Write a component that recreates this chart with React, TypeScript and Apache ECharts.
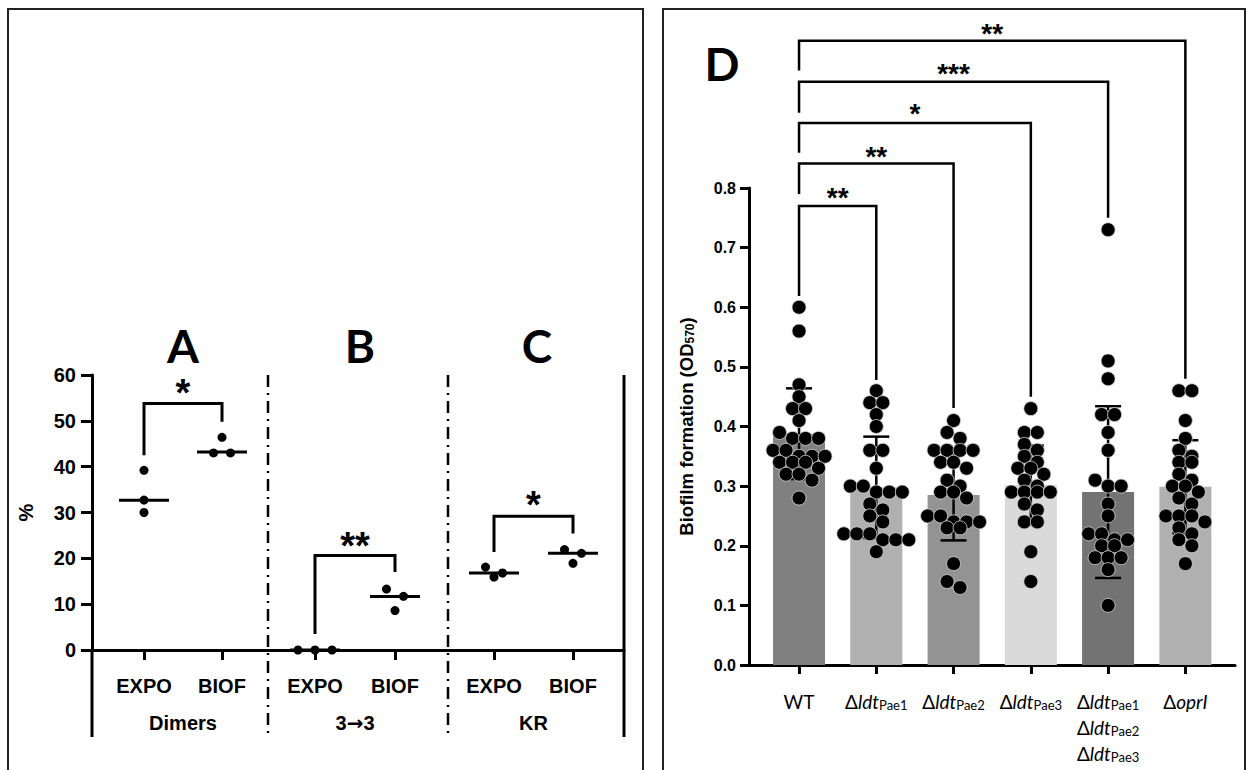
import React, { useEffect, useRef } from "react";
import * as echarts from "echarts";

// ---------- Left panel (A, B, C) data ----------
const groupNames = ["Dimers", "3\u21923", "KR"];
const conditions = ["EXPO", "BIOF"];
const dimersExpo = [39.2, 32.7, 30.0];
const dimersBiof = [46.4, 43.0, 43.0];
const t33Expo = [0, 0, 0];
const t33Biof = [13.3, 11.7, 8.6];
const krExpo = [18.1, 15.9, 16.8];
const krBiof = [21.9, 21.1, 18.9];
const dimersMedian = [32.7, 43.2];
const t33Median = [0, 11.7];
const krMedian = [16.8, 21.1];
const leftSig = ["*", "**", "*"];
// [EXPO leg bottom, bracket top, BIOF leg bottom, star level]
const dimersBracket = [42.5, 53.8, 49.8, 57.8];
const t33Bracket = [3.5, 20.6, 17.0, 24.6];
const krBracket = [21.4, 29.2, 25.4, 33.4];

// ---------- Right panel (D) data ----------
const strains = ["WT", "Pae1", "Pae2", "Pae3", "Triple", "oprI"];
const strainMeans = [0.388, 0.298, 0.285, 0.302, 0.29, 0.299];
const strainSD = [0.076, 0.085, 0.076, 0.066, 0.144, 0.078];
const barColors = ["#808080", "#b0b0b0", "#939393", "#dadada", "#737373", "#b0b0b0"];
const wtValues = [0.6, 0.56, 0.47, 0.45, 0.43, 0.43, 0.41, 0.39, 0.38, 0.38, 0.38, 0.36, 0.36, 0.35, 0.35, 0.35, 0.34, 0.34, 0.34, 0.33, 0.32, 0.32, 0.31, 0.28];
const pae1Values = [0.46, 0.44, 0.44, 0.42, 0.4, 0.36, 0.36, 0.33, 0.3, 0.3, 0.29, 0.29, 0.29, 0.27, 0.26, 0.25, 0.24, 0.22, 0.22, 0.22, 0.21, 0.21, 0.21, 0.19];
const pae2Values = [0.41, 0.39, 0.38, 0.36, 0.36, 0.36, 0.36, 0.34, 0.34, 0.33, 0.31, 0.3, 0.29, 0.29, 0.28, 0.25, 0.25, 0.24, 0.24, 0.24, 0.23, 0.23, 0.17, 0.14, 0.13];
const pae3Values = [0.43, 0.39, 0.39, 0.37, 0.36, 0.35, 0.34, 0.33, 0.33, 0.32, 0.31, 0.3, 0.29, 0.29, 0.29, 0.29, 0.27, 0.26, 0.24, 0.24, 0.19, 0.14];
const tripleValues = [0.73, 0.51, 0.48, 0.42, 0.42, 0.39, 0.36, 0.31, 0.3, 0.3, 0.27, 0.25, 0.22, 0.22, 0.21, 0.21, 0.2, 0.2, 0.18, 0.18, 0.18, 0.16, 0.1];
const oprIValues = [0.46, 0.46, 0.41, 0.38, 0.36, 0.35, 0.34, 0.34, 0.32, 0.31, 0.3, 0.3, 0.29, 0.28, 0.27, 0.25, 0.25, 0.25, 0.24, 0.23, 0.22, 0.21, 0.2, 0.17];
// comparisons vs WT: target index, stars, bracket top, WT leg bottom, target leg bottom, star level
const cmpTargets = [1, 2, 3, 4, 5];
const cmpStars = ["**", "**", "*", "***", "**"];
const cmpTop = [0.77, 0.841, 0.909, 0.978, 1.047];
const cmpWtBottom = [0.619, 0.79, 0.859, 0.926, 0.997];
const cmpTargetBottom = [0.478, 0.431, 0.45, 0.75, 0.48];
const cmpStarLevel = [0.794, 0.864, 0.935, 1.002, 1.07];

const BOLD = "'Liberation Sans', Arial, sans-serif";
const CAL = "Lato, 'Open Sans', sans-serif";

function swarmOffsets(values: number[], pxPerUnit: number, rowH: number, spacing: number): number[] {
  const order = values.map((_, i) => i).sort((a, b) => values[b] - values[a]);
  const offsets = new Array(values.length).fill(0);
  let row: number[] = [];
  let rowStart = 0;
  const flush = () => {
    row.forEach((idx, k) => {
      offsets[idx] = (k - (row.length - 1) / 2) * spacing;
    });
    row = [];
  };
  for (const idx of order) {
    if (row.length && (rowStart - values[idx]) * pxPerUnit >= rowH) flush();
    if (!row.length) rowStart = values[idx];
    row.push(idx);
  }
  flush();
  return offsets;
}

export default function App() {
  const ref = useRef<HTMLDivElement>(null);
  useEffect(() => {
    const chart = echarts.init(ref.current!, null, { renderer: "svg" });

    const LTOP = 375, LH = 275;
    const RTOP = 188, RH = 477;
    const leftGroups = [
      [dimersExpo, dimersBiof],
      [t33Expo, t33Biof],
      [krExpo, krBiof],
    ];
    const leftMedians = [dimersMedian, t33Median, krMedian];
    const leftGridLefts = [105, 275, 454.5];
    const leftGridWidths = [156, 160, 158];
    const lpx = LH / 60;

    const grids: any[] = [
      { left: 92, top: LTOP, width: 532, height: LH },
      ...leftGridLefts.map((l, i) => ({ left: l, top: LTOP, width: leftGridWidths[i], height: LH })),
      { left: 749, top: RTOP, width: 486, height: RH },
      { left: 760.4, top: RTOP, width: 463.6, height: RH },
    ];

    const blackLine = { color: "#000", width: 3 };
    const boldText = { fontSize: 20, fontWeight: "bold", color: "#000", fontFamily: BOLD };
    const xAxes: any[] = [
      { gridIndex: 0, type: "value", min: 0, max: 1, axisLine: { show: true, onZero: false, lineStyle: blackLine }, axisTick: { show: false }, axisLabel: { show: false }, splitLine: { show: false } },
      ...groupNames.map((g, i) => ({
        gridIndex: i + 1,
        type: "category",
        data: conditions,
        axisLine: { show: false },
        axisTick: { show: true, alignWithLabel: true, length: 10, lineStyle: blackLine },
        axisLabel: { interval: 0, margin: 26, ...boldText },
        name: g.replace("\u2192", "{r|\u2192}"),
        nameLocation: "middle",
        nameGap: 63,
        nameTextStyle: {
          ...boldText,
          rich: {
            r: { fontSize: 20, fontWeight: "bold", color: "#000", fontFamily: "'DejaVu Sans', sans-serif" },
          },
        },
      })),
      { gridIndex: 4, type: "value", min: 0, max: 1, axisLine: { show: true, onZero: false, lineStyle: blackLine }, axisTick: { show: false }, axisLabel: { show: false }, splitLine: { show: false } },
      {
        gridIndex: 5,
        type: "category",
        data: strains,
        axisLine: { show: false },
        axisTick: { show: true, alignWithLabel: true, length: 9, lineStyle: blackLine },
        axisLabel: {
          interval: 0,
          margin: 20,
          color: "#000",
          formatter: (v: string) => {
            const ldt = (s: string) => `{d|\u0394}{i|ldt}{s|${s}}`;
            if (v === "WT") return "{n|WT}";
            if (v === "oprI") return "{d|\u0394}{i|oprI}";
            if (v === "Triple") return `${ldt("Pae1")}\n${ldt("Pae2")}\n${ldt("Pae3")}`;
            return ldt(v);
          },
          rich: {
            n: { fontSize: 19, fontFamily: CAL, color: "#000", lineHeight: 26, verticalAlign: "bottom" },
            d: { fontSize: 19, fontFamily: CAL, color: "#000", lineHeight: 26, verticalAlign: "bottom" },
            i: { fontSize: 19, fontFamily: CAL, fontStyle: "italic", color: "#000", lineHeight: 26, verticalAlign: "bottom" },
            s: { fontSize: 13, fontFamily: CAL, color: "#000", lineHeight: 8, verticalAlign: "bottom" },
          },
        },
      },
    ];

    const yAxes: any[] = [
      {
        gridIndex: 0, type: "value", min: 0, max: 60, interval: 10,
        axisLine: { show: true, lineStyle: blackLine },
        axisTick: { show: true, length: 11, lineStyle: blackLine },
        axisLabel: { margin: 16, ...boldText },
        splitLine: { show: false },
        name: "%", nameLocation: "middle", nameGap: 56, nameRotate: 90,
        nameTextStyle: boldText,
      },
      ...groupNames.map((_, i) => ({ gridIndex: i + 1, type: "value", min: 0, max: 60, show: false })),
      {
        gridIndex: 4, type: "value", min: 0, max: 0.8, interval: 0.1,
        axisLine: { show: true, lineStyle: blackLine },
        axisTick: { show: true, length: 9, lineStyle: blackLine },
        axisLabel: { margin: 13, fontSize: 16, fontWeight: "bold", color: "#000", fontFamily: BOLD, formatter: (v: number) => v.toFixed(1) },
        splitLine: { show: false },
        name: "{a|Biofilm formation (OD}{b|570}{a|)}",
        nameLocation: "middle", nameGap: 53, nameRotate: 90,
        nameTextStyle: {
          rich: {
            a: { fontSize: 18.5, fontWeight: "bold", color: "#000", fontFamily: BOLD, lineHeight: 22, verticalAlign: "bottom" },
            b: { fontSize: 12, fontWeight: "bold", color: "#000", fontFamily: BOLD, lineHeight: 8, verticalAlign: "bottom" },
          },
        },
      },
      { gridIndex: 5, type: "value", min: 0, max: 0.8, show: false },
    ];

    const series: any[] = [];
    leftGroups.forEach((grp, g) => {
      series.push({
        type: "scatter", xAxisIndex: g + 1, yAxisIndex: g + 1,
        symbol: "rect", symbolSize: [50, 3],
        itemStyle: { color: "#000", opacity: 1 },
        data: leftMedians[g].map((m, c) => [c, m]),
        z: 3,
      });
      grp.forEach((vals, c) => {
        const offs = swarmOffsets(vals, lpx, 8, 17);
        series.push({
          type: "scatter", xAxisIndex: g + 1, yAxisIndex: g + 1,
          symbol: "circle", symbolSize: 9,
          itemStyle: { color: "#000", opacity: 1 },
          data: vals.map((v, k) => ({ value: [c, v], symbolOffset: [offs[k], 0] })),
          z: 4,
        });
      });
    });

    series.push({
      type: "bar", xAxisIndex: 5, yAxisIndex: 5, barWidth: 52,
      data: strainMeans.map((m, i) => ({ value: m, itemStyle: { color: barColors[i] } })),
      z: 2,
    });
    series.push({
      type: "custom", xAxisIndex: 5, yAxisIndex: 5,
      data: strainMeans.map((m, i) => [i, m, strainSD[i]]),
      encode: { x: 0, y: 1 },
      z: 3,
      renderItem: (_p: any, api: any) => {
        const x = api.value(0), m = api.value(1), sd = api.value(2);
        const top = api.coord([x, m + sd]);
        const bot = api.coord([x, m - sd]);
        const h = 13;
        const st = { stroke: "#000", lineWidth: 2.5 };
        return {
          type: "group",
          children: [
            { type: "line", shape: { x1: top[0], y1: top[1], x2: bot[0], y2: bot[1] }, style: st },
            { type: "line", shape: { x1: top[0] - h, y1: top[1], x2: top[0] + h, y2: top[1] }, style: st },
            { type: "line", shape: { x1: bot[0] - h, y1: bot[1], x2: bot[0] + h, y2: bot[1] }, style: st },
          ],
        };
      },
    });
    const rpx = RH / 0.8;
    [wtValues, pae1Values, pae2Values, pae3Values, tripleValues, oprIValues].forEach((vals, i) => {
      const offs = swarmOffsets(vals, rpx, 9, 13);
      series.push({
        type: "scatter", xAxisIndex: 5, yAxisIndex: 5,
        symbol: "circle", symbolSize: 14,
        itemStyle: { color: "#000", borderColor: "#d8d8d8", borderWidth: 0.8, opacity: 1 },
        data: vals.map((v, k) => ({ value: [i, v], symbolOffset: [offs[k], 0] })),
        z: 4,
      });
    });

    chart.setOption({
      animation: false,
      backgroundColor: "#fff",
      grid: grids,
      xAxis: xAxes,
      yAxis: yAxes,
      series,
    });

    const px = (ai: number, x: number, y: number): number[] =>
      chart.convertToPixel({ xAxisIndex: ai, yAxisIndex: ai } as any, [x, y]) as number[];

    const graphics: any[] = [];
    // panel frames
    graphics.push({ type: "rect", shape: { x: 8, y: 9, width: 635, height: 790 }, style: { fill: "none", stroke: "#222", lineWidth: 2 } });
    graphics.push({ type: "rect", shape: { x: 663, y: 9, width: 582, height: 790 }, style: { fill: "none", stroke: "#222", lineWidth: 2 } });
    // panel letters
    const letters = [["A", 183, 345], ["B", 360, 345], ["C", 537, 345], ["D", 722, 63]];
    letters.forEach(([t, x, y]) =>
      graphics.push({ type: "text", x, y, style: { text: t, fontSize: 46, fontWeight: "bold", fontFamily: CAL, fill: "#000", align: "center", verticalAlign: "middle" } })
    );
    // left chart frame lines below the axis and group separators
    const yBottom = 737;
    const originL = px(0, 0, 0);
    const topL = px(0, 0, 60);
    const endL = px(0, 1, 0);
    graphics.push({ type: "line", shape: { x1: originL[0], y1: originL[1], x2: originL[0], y2: yBottom }, style: { stroke: "#000", lineWidth: 3 } });
    graphics.push({ type: "line", shape: { x1: endL[0], y1: topL[1], x2: endL[0], y2: yBottom }, style: { stroke: "#000", lineWidth: 3 } });
    [268, 448].forEach((x) =>
      graphics.push({ type: "line", shape: { x1: x, y1: topL[1], x2: x, y2: yBottom }, style: { stroke: "#000", lineWidth: 2.5, lineDash: [12, 6, 2, 6] } })
    );
    // left brackets
    [dimersBracket, t33Bracket, krBracket].forEach((b, g) => {
      const a = g + 1;
      const p1 = px(a, 0, b[0]);
      const p2 = px(a, 0, b[1]);
      const p3 = px(a, 1, b[1]);
      const p4 = px(a, 1, b[2]);
      graphics.push({ type: "polyline", shape: { points: [p1, p2, p3, p4] }, style: { stroke: "#000", lineWidth: 3, fill: "none" } });
      const s = px(a, 0, b[3]);
      const fs = 38;
      graphics.push({ type: "text", x: (p2[0] + p3[0]) / 2, y: s[1] + 0.22 * fs, style: { text: leftSig[g], fontSize: fs, fontWeight: "bold", fontFamily: BOLD, fill: "#000", align: "center", verticalAlign: "middle" } });
    });
    // right brackets
    cmpTargets.forEach((t, k) => {
      const p1 = px(5, 0, cmpWtBottom[k]);
      const p2 = px(5, 0, cmpTop[k]);
      const p3 = px(5, t, cmpTop[k]);
      const p4 = px(5, t, cmpTargetBottom[k]);
      graphics.push({ type: "polyline", shape: { points: [p1, p2, p3, p4] }, style: { stroke: "#000", lineWidth: 2.5, fill: "none" } });
      const s = px(5, 0, cmpStarLevel[k]);
      const fs = 28;
      graphics.push({ type: "text", x: (p2[0] + p3[0]) / 2, y: s[1] + 0.22 * fs, style: { text: cmpStars[k], fontSize: fs, fontWeight: "bold", fontFamily: BOLD, fill: "#000", align: "center", verticalAlign: "middle" } });
    });

    chart.setOption({ graphic: graphics });
    return () => chart.dispose();
  }, []);
  return <div ref={ref} style={{ position: "absolute", left: 0, top: 0, width: 1249, height: 770 }} />;
}
